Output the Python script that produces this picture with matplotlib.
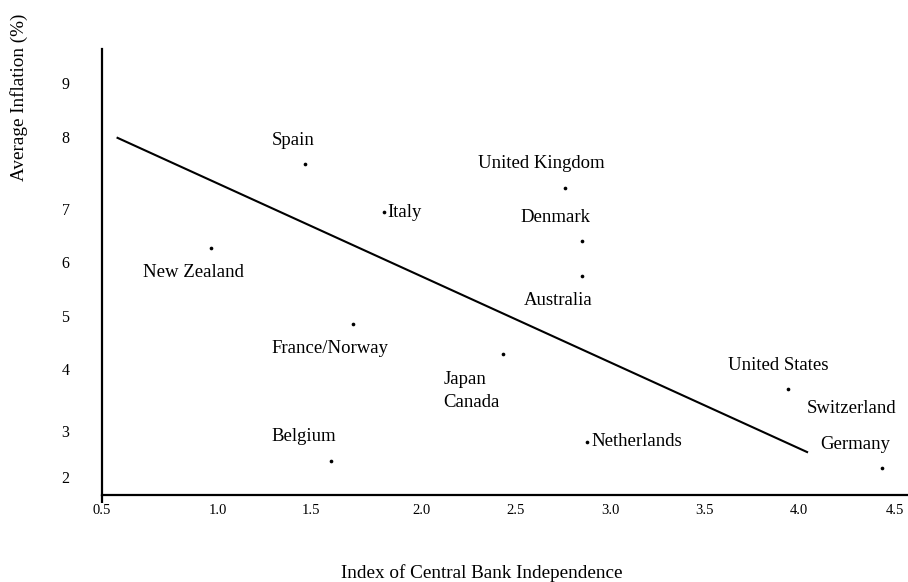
import numpy as np
import matplotlib
matplotlib.use("Agg")
import matplotlib.pyplot as plt

# ---------------- data ----------------
dot_names = ["Spain", "Italy", "New Zealand", "United Kingdom", "Denmark",
             "Australia", "France/Norway", "Japan/Canada", "Belgium",
             "Netherlands", "United States/Switzerland", "Germany"]
independence = [1.47, 1.83, 0.97, 2.76, 2.85, 2.85, 1.69, 2.43, 1.59, 2.88, 3.94, 4.43]
inflation = [7.62, 6.94, 6.27, 7.30, 6.40, 5.74, 4.85, 4.28, 2.34, 2.77, 3.68, 2.20]

fit_x = [0.565, 4.047]
fit_y = [7.99, 2.53]

x_ticks = [0.5, 1.0, 1.5, 2.0, 2.5, 3.0, 3.5, 4.0, 4.5]
x_tick_labels = ["0.5", "1.0", "1.5", "2.0", "2.5", "3.0", "3.5", "4.0", "4.5"]
y_ticks = [2, 3, 4, 5, 6, 7, 8, 9]
y_tick_labels = ["2", "3", "4", "5", "6", "7", "8", "9"]

x_title = "Index of Central Bank Independence"
y_title = "Average Inflation (%)"

# label text, index of its dot, offset (pixels), horizontal alignment
label_texts = ["Spain", "Italy", "New Zealand", "United Kingdom", "Denmark",
               "Australia", "France/Norway", "Japan", "Canada", "Belgium",
               "Netherlands", "United States", "Switzerland", "Germany"]
label_dot = [0, 1, 2, 3, 4, 5, 6, 7, 7, 8, 9, 10, 10, 11]

# ---------------- layout / style ----------------
W, H, DPI = 908, 582, 100
label_offsets = [(-12.7, 23.3), (3, 0), (-17, -25), (-23.3, 24), (-26.3, 23.3),
                 (-23.7, -25), (-23.3, -25), (-59.3, -25), (-59.3, -48.3),
                 (-26.7, 24.3), (4, 0), (-9, 23.3), (64, -20), (-26.7, 22.7)]
label_ha = ["center", "left", "center", "center", "center", "center", "center",
            "left", "left", "center", "left", "center", "center", "center"]

# the reference axis is not evenly graduated: piecewise-linear scales
x_knot_px = [101.5, 217.7, 311, 421.7, 516, 610, 704, 799, 895]
y_knot_px = [105.3, 151, 213, 266, 320.3, 372.7, 445.3, 498.7]  # from bottom


def piecewise(vals, pos):
    vals = np.asarray(vals, float)
    pos = np.asarray(pos, float)

    def conv(v, a, b):
        v = np.asarray(v, float)
        out = np.interp(v, a, b)
        lo_s = (b[1] - b[0]) / (a[1] - a[0])
        hi_s = (b[-1] - b[-2]) / (a[-1] - a[-2])
        out = np.where(v < a[0], b[0] + (v - a[0]) * lo_s, out)
        out = np.where(v > a[-1], b[-1] + (v - a[-1]) * hi_s, out)
        return out

    return (lambda v: conv(v, vals, pos)), (lambda p: conv(p, pos, vals))


xf, xi = piecewise(x_ticks, x_knot_px)
yf, yi = piecewise(y_ticks, y_knot_px)

plt.rcParams["font.family"] = ["Liberation Serif", "DejaVu Serif"]

fig = plt.figure(figsize=(W / DPI, H / DPI), dpi=DPI)
left_px, right_px = 101.5, 908
bottom_px, top_px = 87, 532.7
ax = fig.add_axes([left_px / W, bottom_px / H, (right_px - left_px) / W,
                   (top_px - bottom_px) / H])
ax.set_xscale("function", functions=(xf, xi))
ax.set_yscale("function", functions=(yf, yi))
ax.set_xlim(float(xi(left_px)), float(xi(right_px)))
ax.set_ylim(float(yi(bottom_px)), float(yi(top_px)))

for s in ("top", "right"):
    ax.spines[s].set_visible(False)
for s in ("left", "bottom"):
    ax.spines[s].set_linewidth(1.6)
# left axis line pokes slightly below the x axis
ax.plot([0, 0], [0, -8 / (top_px - bottom_px)], transform=ax.transAxes,
        color="black", lw=1.6, clip_on=False, solid_capstyle="butt")

ax.set_xticks(x_ticks)
ax.set_xticklabels(x_tick_labels, fontsize=10.5)
ax.set_yticks(y_ticks)
ax.set_yticklabels(y_tick_labels, fontsize=11.5)
ax.xaxis.set_minor_locator(matplotlib.ticker.NullLocator())
ax.yaxis.set_minor_locator(matplotlib.ticker.NullLocator())
ax.tick_params(axis="both", which="both", length=0)
ax.tick_params(axis="x", pad=6.5)
ax.tick_params(axis="y", pad=23)

ax.plot(fit_x, fit_y, color="black", lw=1.5, solid_capstyle="butt")
ax.scatter(independence, inflation, s=7, color="black", zorder=3, linewidths=0)

for txt, di, (dx, dy), ha in zip(label_texts, label_dot, label_offsets, label_ha):
    ax.annotate(txt, (independence[di], inflation[di]), xytext=(dx, dy),
                textcoords="offset pixels", ha=ha, va="center", fontsize=13.5)

fig.text(482 / W, 1 - 573.3 / H, x_title, ha="center", va="center", fontsize=13.8)
fig.text(19 / W, 1 - 97.5 / H, y_title, ha="center", va="center",
         rotation=90, fontsize=13.8)

fig.savefig("out.png", dpi=DPI)
